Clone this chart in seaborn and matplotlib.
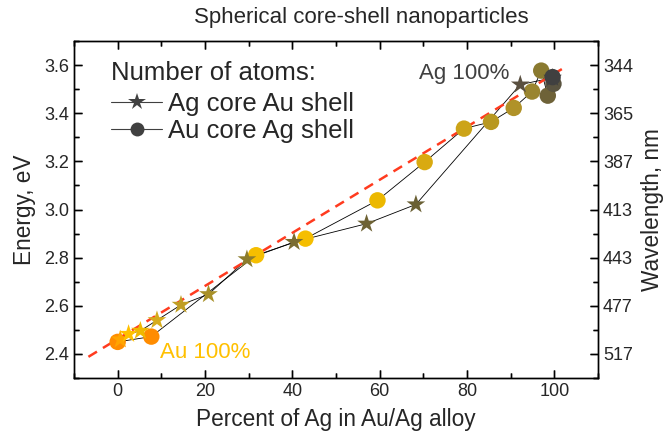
import numpy as np
import pandas as pd
import matplotlib
matplotlib.use("Agg")
import matplotlib.pyplot as plt
from matplotlib.lines import Line2D
from matplotlib.ticker import MultipleLocator
import seaborn as sns

# ---- data ----
star_x = [0.6, 2.5, 5.2, 9.0, 14.5, 20.8, 29.6, 40.4, 57.0, 68.3, 92.2, 99.6]
star_y = [2.460, 2.483, 2.496, 2.540, 2.604, 2.648, 2.793, 2.865, 2.941, 3.021, 3.519, 3.547]
circ_x = [0.0, 7.7, 31.7, 43.0, 59.5, 70.3, 79.3, 85.5, 90.7, 94.9, 97.0, 98.5, 99.8, 99.6]
circ_y = [2.450, 2.472, 2.810, 2.879, 3.038, 3.197, 3.336, 3.364, 3.422, 3.490, 3.577, 3.473, 3.522, 3.550]
fit_x = [-6.7, 102.6]
fit_y = [2.388, 3.593]
energy_ticks = [2.4, 2.6, 2.8, 3.0, 3.2, 3.4, 3.6]
wavelength_labels = ["517", "477", "443", "413", "387", "365", "344"]

star_colors = ["#FFA500", "#FFC000", "#F0B800", "#D6AC1C", "#C09E24", "#A89028",
               "#8C7C2C", "#7A6C30", "#6E6234", "#6A6034", "#5A5040", "#404040"]
circ_colors = ["#FF8C00", "#FF8C00", "#F5BE00", "#F5BE00", "#ECB800", "#D9AA10",
               "#CCA418", "#B89820", "#B09228", "#9A8530", "#8A7A30", "#6E6238",
               "#5A5440", "#404040"]

sns.set_theme(style="ticks", rc={"xtick.direction": "in", "ytick.direction": "in",
                                 "axes.edgecolor": "black", "axes.linewidth": 1.0})
plt.rcParams['font.family'] = ['Liberation Sans', 'DejaVu Sans']

W, H = 670, 442
L, R, T, B = 74, 598, 41, 378
fig = plt.figure(figsize=(6.7, 4.42), dpi=100)
ax = fig.add_axes([L/W, 1-B/H, (R-L)/W, (B-T)/H])

df_s = pd.DataFrame({"x": star_x, "y": star_y, "i": range(len(star_x))})
df_c = pd.DataFrame({"x": circ_x, "y": circ_y, "i": range(len(circ_x))})

sns.lineplot(data=df_s, x="x", y="y", sort=False, color="black", lw=0.6, ax=ax, zorder=2)
sns.lineplot(data=df_c, x="x", y="y", sort=False, color="black", lw=0.6, ax=ax, zorder=2)
ax.plot(fit_x, fit_y, color="#FF3B1F", lw=1.8, linestyle=(0, (4, 2.8)), zorder=3)
sns.scatterplot(data=df_c, x="x", y="y", hue="i", palette=circ_colors, marker="o",
                s=140, linewidth=0, legend=False, ax=ax, zorder=4)
sns.scatterplot(data=df_s, x="x", y="y", hue="i", palette=star_colors, marker="*",
                s=200, linewidth=0, legend=False, ax=ax, zorder=5)

ax.set_xlim(-10, 110)
ax.set_ylim(2.3, 3.7)
ax.xaxis.set_major_locator(MultipleLocator(20))
ax.xaxis.set_minor_locator(MultipleLocator(10))
ax.set_yticks(energy_ticks)
ax.yaxis.set_minor_locator(MultipleLocator(0.1))

ax.set_xlabel("Percent of Ag in Au/Ag alloy", fontsize=16.3, labelpad=6)
ax.set_ylabel("Energy, eV", fontsize=16.3, labelpad=6)

ax2 = ax.twinx()
ax2.set_ylim(ax.get_ylim())
ax2.set_yticks(energy_ticks)
ax2.set_yticklabels(wavelength_labels)
ax2.yaxis.set_minor_locator(MultipleLocator(0.1))
ax2.set_ylabel("Wavelength, nm", fontsize=16.3, labelpad=6)

ax.tick_params(which="both", direction="in", top=True, bottom=True, left=True, right=False,
               labelsize=13, color="black", width=1.0)
ax.tick_params(which="major", length=6)
ax.tick_params(which="minor", length=3.5)
ax2.tick_params(which="both", direction="in", right=True, left=False,
                labelsize=13, color="black", width=1.0)
ax2.tick_params(which="major", length=6)
ax2.tick_params(which="minor", length=3.5)

# inward tick segments along the frame, at the axis' own tick locations
px = 100 / 72
ax_h, ax_w = (B - T), (R - L)
def tick_segments(locs, length_pt, horizontal_axis):
    xs, ys = [], []
    if horizontal_axis:
        lf = length_pt * px / ax_h
        for v in locs:
            xs += [v, v, np.nan, v, v, np.nan]
            ys += [0, lf, np.nan, 1, 1 - lf, np.nan]
        return xs, ys
    lf = length_pt * px / ax_w
    for v in locs:
        xs += [0, lf, np.nan, 1, 1 - lf, np.nan]
        ys += [v, v, np.nan, v, v, np.nan]
    return xs, ys

xlo, xhi = ax.get_xlim()
ylo, yhi = ax.get_ylim()
xmaj = [v for v in ax.xaxis.get_majorticklocs() if xlo <= v <= xhi]
xmin = [v for v in ax.xaxis.get_minorticklocs() if xlo <= v <= xhi]
ymaj = [v for v in ax.yaxis.get_majorticklocs() if ylo <= v <= yhi]
ymin = [v for v in ax.yaxis.get_minorticklocs() if ylo <= v <= yhi]
for locs, ln, horiz in [(xmaj, 6, True), (xmin, 3.5, True), (ymaj, 6, False), (ymin, 3.5, False)]:
    sx, sy = tick_segments(locs, ln, horiz)
    tr = ax.get_xaxis_transform() if horiz else ax.get_yaxis_transform()
    ax.plot(sx, sy, color="black", lw=1.0, transform=tr, clip_on=False, zorder=2.6,
            solid_capstyle="butt")

ax.text(69, 3.567, "Ag 100%", color="#404040", fontsize=16, va="center", ha="left", zorder=6)
ax.text(9.7, 2.404, "Au 100%", color="#FFC000", fontsize=16, va="center", ha="left", zorder=6)

fig.text(361/670, 1-18/442, "Spherical core-shell nanoparticles", fontsize=16,
         ha="center", va="center")

handles = [
    Line2D([0], [0], color="#404040", lw=0.8, marker="*", markersize=13, markerfacecolor="#404040",
           markeredgewidth=0),
    Line2D([0], [0], color="#404040", lw=0.8, marker="o", markersize=10, markerfacecolor="#404040",
           markeredgewidth=0),
]
leg = ax2.legend(handles, ["Ag core Au shell", "Au core Ag shell"], title="Number of atoms:",
                 title_fontsize=18.5, fontsize=18.5, frameon=False, loc="upper left",
                 bbox_to_anchor=(111/670, 1-61/442), bbox_transform=fig.transFigure,
                 borderpad=0, borderaxespad=0, handlelength=2.0, handletextpad=0.2,
                 labelspacing=0.12, alignment="left")
leg._legend_box.sep = 5

fig.savefig("out.png", dpi=100)
